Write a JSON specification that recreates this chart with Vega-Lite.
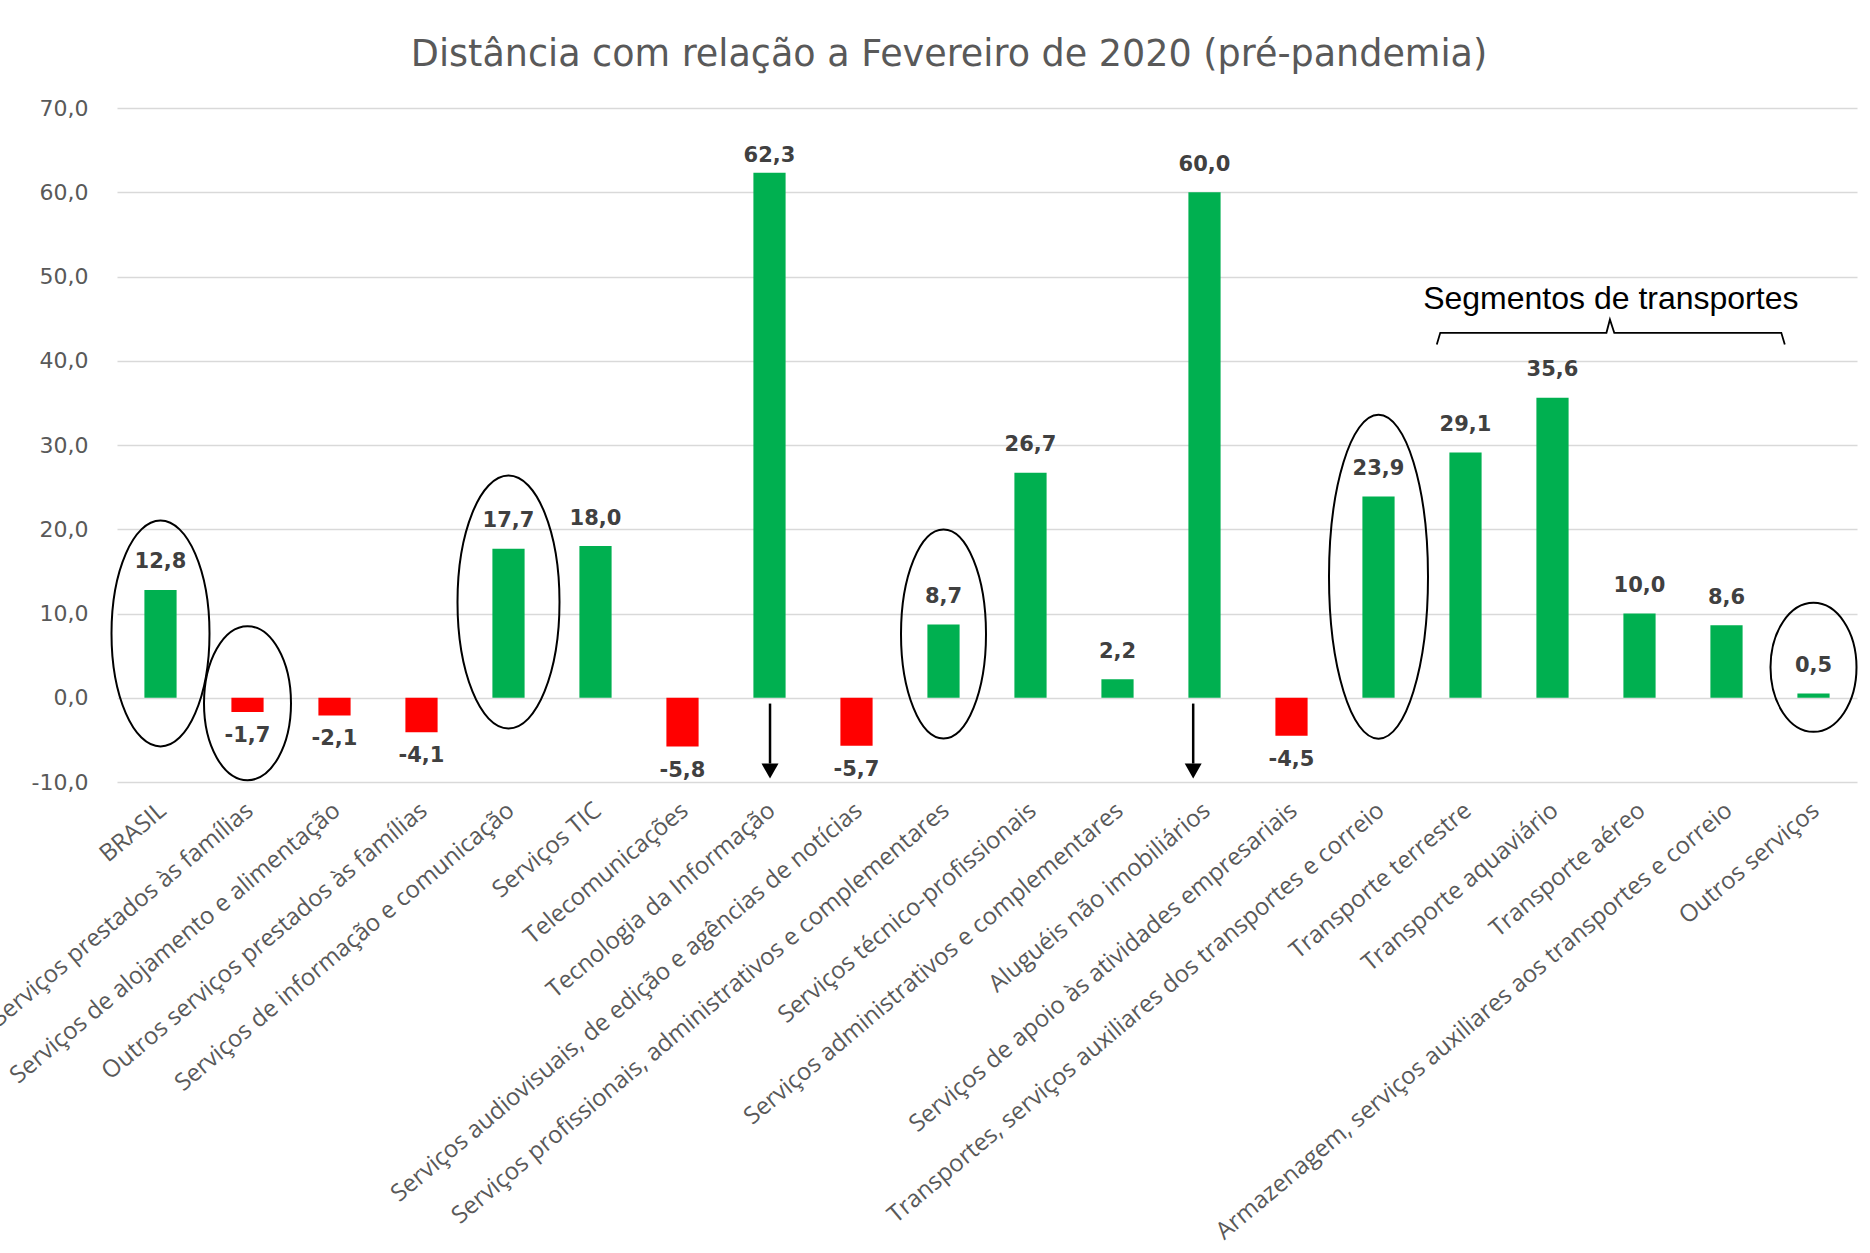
{
  "$schema": "https://vega.github.io/schema/vega-lite/v6.json",
  "width": 1740,
  "height": 674,
  "autosize": {"type": "none"},
  "padding": {"left": 117, "top": 108, "right": 13, "bottom": 471},
  "background": "white",
  "config": {
    "view": {"stroke": null},
    "locale": {"number": {"decimal": ",", "thousands": ".", "grouping": [3], "currency": ["R$", ""], "minus": "-"}},
    "axisX": {"domain": false, "ticks": false, "tickSize": 0, "grid": false, "labelAngle": -40, "labelAlign": "right", "labelBaseline": "top", "labelPadding": 16, "labelOffset": -5, "labelFont": "Open Sans", "labelFontSize": 24, "labelColor": "#595959", "labelLimit": 1000, "labelOverlap": false, "labelBound": false, "title": null},
    "axisY": {"domain": false, "ticks": false, "tickSize": 0, "grid": true, "gridColor": "#d9d9d9", "gridWidth": 1.5, "labelFont": "DejaVu Sans", "labelFontSize": 22, "labelColor": "#595959", "labelPadding": 29, "title": null}
  },
  "title": {"text": "Distância com relação a Fevereiro de 2020 (pré-pandemia)", "font": "DejaVu Sans", "fontSize": 36.5, "fontWeight": "normal", "color": "#595959", "anchor": "middle", "frame": "group", "dx": -38, "offset": 24},
  "datasets": {
    "setores": [
      {"setor": "BRASIL", "valor": 12.8},
      {"setor": "Serviços prestados às famílias", "valor": -1.7},
      {"setor": "Serviços de alojamento e alimentação", "valor": -2.1},
      {"setor": "Outros serviços prestados às famílias", "valor": -4.1},
      {"setor": "Serviços de informação e comunicação", "valor": 17.7},
      {"setor": "Serviços TIC", "valor": 18.0},
      {"setor": "Telecomunicações", "valor": -5.8},
      {"setor": "Tecnologia da Informação", "valor": 62.3},
      {"setor": "Serviços audiovisuais, de edição e agências de notícias", "valor": -5.7},
      {"setor": "Serviços profissionais, administrativos  e complementares", "valor": 8.7},
      {"setor": "Serviços técnico-profissionais", "valor": 26.7},
      {"setor": "Serviços administrativos e complementares", "valor": 2.2},
      {"setor": "Aluguéis não imobiliários", "valor": 60.0},
      {"setor": "Serviços de apoio às atividades empresariais", "valor": -4.5},
      {"setor": "Transportes, serviços auxiliares dos transportes e correio", "valor": 23.9},
      {"setor": "Transporte terrestre", "valor": 29.1},
      {"setor": "Transporte aquaviário", "valor": 35.6},
      {"setor": "Transporte aéreo", "valor": 10.0},
      {"setor": "Armazenagem, serviços auxiliares aos transportes e correio", "valor": 8.6},
      {"setor": "Outros serviços", "valor": 0.5}
    ],
    "elipses": [
      {"setor": "BRASIL", "centro": 7.63},
      {"setor": "Serviços prestados às famílias", "centro": -0.65},
      {"setor": "Serviços de informação e comunicação", "centro": 11.36},
      {"setor": "Serviços profissionais, administrativos  e complementares", "centro": 7.56},
      {"setor": "Transportes, serviços auxiliares dos transportes e correio", "centro": 14.36},
      {"setor": "Outros serviços", "centro": 3.61}
    ],
    "setas": [
      {"pos": 7.506, "inicio": -0.69, "fim": -7.81},
      {"pos": 12.37, "inicio": -0.69, "fim": -7.81}
    ],
    "chave": [
      {"ordem": 1, "pos": 15.17, "nivel": 41.93},
      {"ordem": 2, "pos": 15.21, "nivel": 43.32},
      {"ordem": 3, "pos": 17.12, "nivel": 43.32},
      {"ordem": 4, "pos": 17.16, "nivel": 44.9},
      {"ordem": 5, "pos": 17.21, "nivel": 43.32},
      {"ordem": 6, "pos": 19.13, "nivel": 43.32},
      {"ordem": 7, "pos": 19.17, "nivel": 41.93}
    ],
    "rotulo": [
      {"pos": 17.17, "nivel": 46.2, "texto": "Segmentos de transportes"}
    ]
  },
  "layer": [
    {
      "encoding": {
        "x": {"field": "setor", "type": "nominal", "sort": null, "scale": {"paddingInner": 0.63, "paddingOuter": 0.315}}
      },
      "layer": [
        {
          "data": {"name": "setores"},
          "mark": {"type": "bar"},
          "encoding": {
            "y": {"field": "valor", "type": "quantitative", "scale": {"domain": [-10, 70], "nice": false}, "title": null, "axis": {"values": [-10, 0, 10, 20, 30, 40, 50, 60, 70], "format": ".1f"}},
            "color": {"condition": {"test": "datum.valor < 0", "value": "#FF0000"}, "value": "#00B050"}
          }
        },
        {
          "data": {"name": "elipses"},
          "mark": {"type": "point", "filled": false, "size": 4, "stroke": "black", "strokeWidth": 2, "opacity": 1},
          "encoding": {
            "y": {"field": "centro", "type": "quantitative", "scale": {"domain": [-10, 70], "nice": false}, "title": null},
            "shape": {
              "field": "setor", "type": "nominal", "legend": null,
              "scale": {
                "domain": ["BRASIL", "Serviços prestados às famílias", "Serviços de informação e comunicação", "Serviços profissionais, administrativos  e complementares", "Transportes, serviços auxiliares dos transportes e correio", "Outros serviços"],
                "range": [
                  "M -49 0 A 49 113 0 1 0 49 0 A 49 113 0 1 0 -49 0 Z",
                  "M -43.5 0 A 43.5 77 0 1 0 43.5 0 A 43.5 77 0 1 0 -43.5 0 Z",
                  "M -51 0 A 51 126.5 0 1 0 51 0 A 51 126.5 0 1 0 -51 0 Z",
                  "M -42.5 0 A 42.5 104.5 0 1 0 42.5 0 A 42.5 104.5 0 1 0 -42.5 0 Z",
                  "M -49.5 0 A 49.5 162 0 1 0 49.5 0 A 49.5 162 0 1 0 -49.5 0 Z",
                  "M -43 0 A 43 64.5 0 1 0 43 0 A 43 64.5 0 1 0 -43 0 Z"
                ]
              }
            }
          }
        },
        {
          "data": {"name": "setores"},
          "transform": [{"filter": "datum.valor >= 0 && datum.valor < 62"}],
          "mark": {"type": "text", "dy": -27.5, "baseline": "middle", "font": "DejaVu Sans", "fontWeight": "bold", "fontSize": 21, "color": "#404040"},
          "encoding": {
            "y": {"field": "valor", "type": "quantitative", "scale": {"domain": [-10, 70], "nice": false}, "title": null},
            "text": {"field": "valor", "type": "quantitative", "format": ".1f"}
          }
        },
        {
          "data": {"name": "setores"},
          "transform": [{"filter": "datum.valor >= 62"}],
          "mark": {"type": "text", "dy": -16.7, "baseline": "middle", "font": "DejaVu Sans", "fontWeight": "bold", "fontSize": 21, "color": "#404040"},
          "encoding": {
            "y": {"field": "valor", "type": "quantitative", "scale": {"domain": [-10, 70], "nice": false}, "title": null},
            "text": {"field": "valor", "type": "quantitative", "format": ".1f"}
          }
        },
        {
          "data": {"name": "setores"},
          "transform": [{"filter": "datum.valor < 0"}],
          "mark": {"type": "text", "dy": 24, "baseline": "middle", "font": "DejaVu Sans", "fontWeight": "bold", "fontSize": 21, "color": "#404040"},
          "encoding": {
            "y": {"field": "valor", "type": "quantitative", "scale": {"domain": [-10, 70], "nice": false}, "title": null},
            "text": {"field": "valor", "type": "quantitative", "format": ".1f"}
          }
        }
      ]
    },
    {
      "encoding": {
        "x": {"field": "pos", "type": "quantitative", "scale": {"domain": [0, 20], "nice": false, "zero": false}, "axis": null}
      },
      "layer": [
        {
          "data": {"name": "setas"},
          "mark": {"type": "rule", "color": "black", "strokeWidth": 2.5},
          "encoding": {
            "y": {"field": "inicio", "type": "quantitative", "scale": {"domain": [-10, 70], "nice": false}, "title": null},
            "y2": {"field": "fim"}
          }
        },
        {
          "data": {"name": "setas"},
          "mark": {"type": "point", "filled": true, "size": 4, "color": "black", "opacity": 1, "shape": "M -8.5 0 L 8.5 0 L 0 15 Z"},
          "encoding": {
            "y": {"field": "fim", "type": "quantitative", "scale": {"domain": [-10, 70], "nice": false}, "title": null}
          }
        },
        {
          "data": {"name": "chave"},
          "mark": {"type": "line", "color": "black", "strokeWidth": 1.8},
          "encoding": {
            "y": {"field": "nivel", "type": "quantitative", "scale": {"domain": [-10, 70], "nice": false}, "title": null},
            "order": {"field": "ordem", "type": "quantitative"}
          }
        },
        {
          "data": {"name": "rotulo"},
          "mark": {"type": "text", "font": "Liberation Sans", "fontSize": 32, "color": "black", "align": "center", "baseline": "alphabetic"},
          "encoding": {
            "y": {"field": "nivel", "type": "quantitative", "scale": {"domain": [-10, 70], "nice": false}, "title": null},
            "text": {"field": "texto"}
          }
        }
      ]
    }
  ],
  "resolve": {"scale": {"x": "independent"}}
}
